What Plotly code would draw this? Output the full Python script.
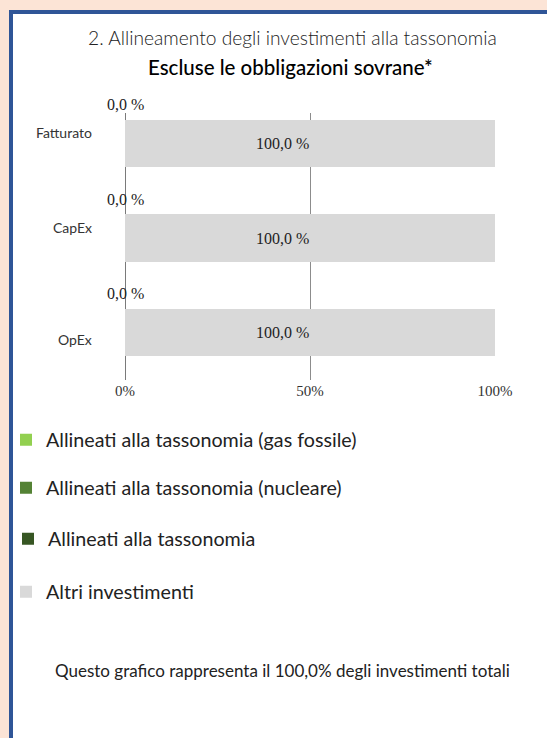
import plotly.graph_objects as go

categories = ["Fatturato", "CapEx", "OpEx"]
series_names = [
    "Allineati alla tassonomia (gas fossile)",
    "Allineati alla tassonomia (nucleare)",
    "Allineati alla tassonomia",
    "Altri investimenti",
]
series_colors = ["#92D050", "#548235", "#375623", "#D9D9D9"]
gas_fossile = [0.0, 0.0, 0.0]
nucleare = [0.0, 0.0, 0.0]
tassonomia = [0.0, 0.0, 0.0]
altri = [100.0, 100.0, 100.0]
x_ticks = [0, 50, 100]
x_tick_labels = ["0%", "50%", "100%"]
title_1 = "2. Allineamento degli investimenti alla tassonomia"
title_2 = "Escluse le obbligazioni sovrane*"
footer = "Questo grafico rappresenta il 100,0% degli investimenti totali"

W, H = 547, 738
SANS = "Lato, Carlito, Calibri, Open Sans, sans-serif"
SERIF = "Liberation Serif, Times New Roman, serif"

fig = go.Figure()
all_series = [gas_fossile, nucleare, tassonomia, altri]
legend_ids = ["legend", "legend2", "legend3", "legend4"]
for name, col, vals, lg in zip(series_names, series_colors, all_series, legend_ids):
    fig.add_trace(go.Bar(
        y=categories, x=vals, orientation="h", name=name,
        marker=dict(color=col, line=dict(width=0)),
        width=0.495, legend=lg, hoverinfo="skip",
    ))

fig.update_layout(barmode="stack")

def fmt(v):
    return f"{v:.1f}".replace(".", ",") + " %"

annotations = []
for c, v in zip(categories, tassonomia):
    annotations.append(dict(x=v, y=c, xref="x", yref="y", text=fmt(v), showarrow=False,
                            xanchor="center", yanchor="middle",
                            yshift=39, font=dict(family=SERIF, size=16, color="#222")))
for c, v in zip(categories, altri):
    annotations.append(dict(x=v / 2, y=c, xref="x", yref="y", text=fmt(v), showarrow=False,
                            xanchor="center", yanchor="middle",
                            xshift=-28, font=dict(family=SERIF, size=16, color="#222")))
cat_shift = [11, 11, -7]
for c, s in zip(categories, cat_shift):
    annotations.append(dict(x=0, y=c, xref="x", yref="y", text=c, showarrow=False,
                            xanchor="right", yanchor="middle", xshift=-31, yshift=s,
                            font=dict(family=SANS, size=14, color="#333", weight=400)))

annotations += [
    dict(x=292 / W, y=1 - 37 / H, xref="paper", yref="paper", text=title_1, showarrow=False,
         xanchor="center", yanchor="middle",
         font=dict(family=SANS, size=19.2, color="#222", weight=300)),
    dict(x=290 / W, y=1 - 67 / H, xref="paper", yref="paper", text=title_2, showarrow=False,
         xanchor="center", yanchor="middle",
         font=dict(family=SANS, size=20.5, color="#000", weight=500)),
    dict(x=282 / W, y=1 - 670 / H, xref="paper", yref="paper", text=footer, showarrow=False,
         xanchor="center", yanchor="middle",
         font=dict(family=SANS, size=17, color="#222", weight=400)),
]

shapes = [
    dict(type="rect", xref="paper", yref="paper", x0=9 / W, x1=1.01, y0=-0.01, y1=1 - 10 / H,
         fillcolor="#2F5597", line=dict(width=0), layer="below"),
    dict(type="rect", xref="paper", yref="paper", x0=13 / W, x1=1.01, y0=-0.01, y1=1 - 14 / H,
         fillcolor="#FFFFFF", line=dict(width=0), layer="below"),
]

legend_y = [440, 488, 539, 592]
legend_x = [6, 6, 8, 6]
layout_legends = {}
for lg, ly, lx in zip(legend_ids, legend_y, legend_x):
    layout_legends[lg] = dict(
        x=lx / W, y=1 - ly / H, xanchor="left", yanchor="middle",
        bgcolor="rgba(0,0,0,0)", font=dict(family=SANS, size=19.7, color="#222", weight=400),
        itemwidth=30, traceorder="normal",
    )

fig.update_layout(
    width=W, height=H,
    margin=dict(l=0, r=0, t=0, b=0, autoexpand=False),
    paper_bgcolor="#FCE4D6",
    plot_bgcolor="rgba(0,0,0,0)",
    showlegend=True,
    annotations=annotations,
    shapes=shapes,
    xaxis=dict(domain=[125 / W, 495 / W], range=[0, 100], tickvals=x_ticks, ticktext=x_tick_labels,
               showgrid=True, gridcolor="#8C8C8C", gridwidth=1, zeroline=True, zerolinecolor="#7A7A7A",
               zerolinewidth=1, showline=False, ticks="", fixedrange=True, automargin=False,
               tickfont=dict(family=SERIF, size=15, color="#333")),
    yaxis=dict(domain=[1 - 380 / H, 1 - 113 / H], categoryorder="array", categoryarray=categories,
               range=[2.495, -0.316], showticklabels=False, showgrid=False, zeroline=False,
               ticks="", fixedrange=True, automargin=False),
)
fig.update_layout(**layout_legends)

fig.write_html("out.html", config={"displayModeBar": False},
               post_script="document.body.style.margin='0';document.body.style.padding='0';")
